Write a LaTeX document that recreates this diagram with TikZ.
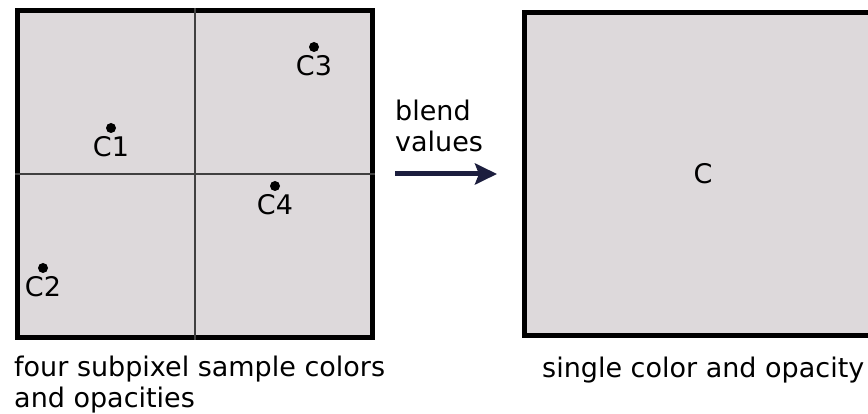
\documentclass[tikz,border=0pt]{standalone}
\usepackage{fontspec}
\setmainfont{DejaVu Sans}
\usetikzlibrary{arrows.meta,positioning}

\definecolor{pixfill}{RGB}{221,217,219}
\definecolor{arrowblue}{RGB}{28,30,62}

\begin{document}
\begin{tikzpicture}[x=1pt, y=-1pt,
    pixel/.style={draw, line width=5pt, fill=pixfill, inner sep=0pt},
    grid/.style={line width=1.3pt, draw=black!75},
    sample/.style={circle, fill=black, inner sep=0pt, minimum size=10pt},
    tag/.style={inner sep=0pt},
    caption/.style={inner sep=0pt, anchor=base west},
    arrow/.style={-{Stealth[length=22pt, width=21pt, inset=4pt]}, line width=5pt, draw=arrowblue},
    every node/.style={font=\fontsize{27}{31}\selectfont}
]
\clip (0,0) rectangle (868,414);

% Four subpixel samples
\node[pixel, minimum width=355pt, minimum height=326pt] (lbox) at (195,174) {};
\draw[grid] (lbox.north) -- (lbox.south);
\draw[grid] (lbox.west) -- (lbox.east);

\node[sample] (s1) at (111,128) {};
\node[tag, below=3pt of s1] (c1) {C1};
\node[sample] (s2) at (43,268) {};
\node[tag, below=3pt of s2] (c2) {C2};
\node[sample] (s3) at (314,47) {};
\node[tag, below=3pt of s3] (c3) {C3};
\node[sample] (s4) at (275,186) {};
\node[tag, below=3pt of s4] (c4) {C4};

% Blended pixel
\node[pixel, minimum width=357pt, minimum height=323pt] (rbox) at (703,174) {C};

% Arrow
\draw[arrow, shorten <=20pt, shorten >=25pt] (lbox.east) -- (rbox.west);
\node[caption] (blend) at (395,121) {blend};
\node[caption] (values) at (395,152) {values};

% Captions
\node[caption] (cap1) at (14,376) {four subpixel sample colors};
\node[caption] (cap1b) at (14,407) {and opacities};
\node[caption] (cap2) at (542,377) {single color and opacity};
\end{tikzpicture}
\end{document}
